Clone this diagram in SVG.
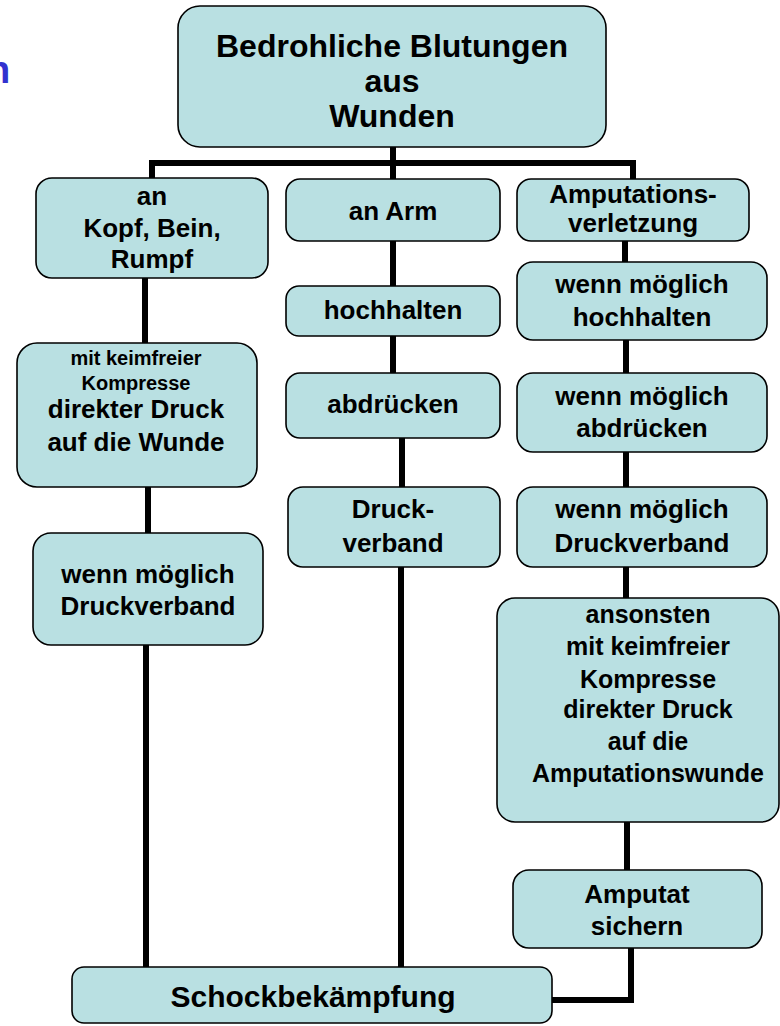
<svg xmlns="http://www.w3.org/2000/svg" width="780" height="1026" viewBox="0 0 780 1026">
<style>
.box{fill:#b9e0e2;stroke:#000;stroke-width:1.6}
.t{font-family:"Liberation Sans",Arial,sans-serif;font-weight:bold;fill:#000;text-anchor:middle;font-size:26px}
.s{font-size:20px}
.m{font-size:25px}
.l{font-size:32px}
.k{font-size:30px}
.c{fill:none;stroke:#000;stroke-width:6;stroke-linejoin:miter}
</style>
<rect width="780" height="1026" fill="#fff"/>
<text x="-13" y="83" font-family="Liberation Sans,Arial,sans-serif" font-weight="bold" font-size="38" fill="#3232cf">n</text>
<g id="connectors">
<path class="c" d="M393 147 V179"/>
<path class="c" d="M152 178 V163 H633 V179"/>
<path class="c" d="M145 278 V343"/>
<path class="c" d="M148 487 V533"/>
<path class="c" d="M146 645 V967"/>
<path class="c" d="M393 241 V286"/>
<path class="c" d="M393 336 V373"/>
<path class="c" d="M402 438 V487"/>
<path class="c" d="M401 567 V967"/>
<path class="c" d="M625 241 V262"/>
<path class="c" d="M626 340 V373"/>
<path class="c" d="M626 452 V487"/>
<path class="c" d="M626 567 V598"/>
<path class="c" d="M627 822 V870"/>
<path class="c" d="M631 948 V1000 H552"/>
</g>
<g id="top">
<rect class="box" x="178" y="6" width="428" height="141" rx="22"/>
<text class="t l" x="392" y="57">Bedrohliche Blutungen</text>
<text class="t l" x="392" y="92">aus</text>
<text class="t l" x="392" y="127">Wunden</text>
</g>
<g id="kopf">
<rect class="box" x="36" y="178" width="232" height="100" rx="16"/>
<text class="t" x="152" y="205">an</text>
<text class="t" x="152" y="237">Kopf, Bein,</text>
<text class="t" x="152" y="268">Rumpf</text>
</g>
<g id="arm">
<rect class="box" x="286" y="179" width="214" height="62" rx="14"/>
<text class="t" x="393" y="220">an Arm</text>
</g>
<g id="amputation">
<rect class="box" x="517" y="179" width="232" height="62" rx="14"/>
<text class="t" x="633" y="203">Amputations-</text>
<text class="t" x="633" y="232">verletzung</text>
</g>
<g id="r-hochhalten">
<rect class="box" x="517" y="262" width="250" height="78" rx="16"/>
<text class="t" x="642" y="293">wenn möglich</text>
<text class="t" x="642" y="326">hochhalten</text>
</g>
<g id="m-hochhalten">
<rect class="box" x="286" y="286" width="214" height="50" rx="13"/>
<text class="t" x="393" y="319">hochhalten</text>
</g>
<g id="l-kompresse">
<rect class="box" x="17" y="343" width="240" height="144" rx="20"/>
<text class="t s" x="136" y="365">mit keimfreier</text>
<text class="t s" x="136" y="390">Kompresse</text>
<text class="t" x="136" y="418">direkter Druck</text>
<text class="t" x="136" y="451">auf die Wunde</text>
</g>
<g id="m-abdruecken">
<rect class="box" x="286" y="373" width="214" height="65" rx="14"/>
<text class="t" x="393" y="413">abdrücken</text>
</g>
<g id="r-abdruecken">
<rect class="box" x="517" y="373" width="250" height="79" rx="16"/>
<text class="t" x="642" y="405">wenn möglich</text>
<text class="t" x="642" y="437">abdrücken</text>
</g>
<g id="m-druckverband">
<rect class="box" x="288" y="487" width="212" height="80" rx="15"/>
<text class="t" x="393" y="518">Druck-</text>
<text class="t" x="393" y="552">verband</text>
</g>
<g id="r-druckverband">
<rect class="box" x="517" y="487" width="250" height="80" rx="16"/>
<text class="t" x="642" y="518">wenn möglich</text>
<text class="t" x="642" y="552">Druckverband</text>
</g>
<g id="l-druckverband">
<rect class="box" x="33" y="533" width="230" height="112" rx="18"/>
<text class="t" x="148" y="583">wenn möglich</text>
<text class="t" x="148" y="615">Druckverband</text>
</g>
<g id="r-ansonsten">
<rect class="box" x="497" y="598" width="282" height="224" rx="18"/>
<text class="t m" x="648" y="623">ansonsten</text>
<text class="t m" x="648" y="655">mit keimfreier</text>
<text class="t m" x="648" y="688">Kompresse</text>
<text class="t m" x="648" y="718">direkter Druck</text>
<text class="t m" x="648" y="750">auf die</text>
<text class="t m" x="648" y="782">Amputationswunde</text>
</g>
<g id="amputat">
<rect class="box" x="513" y="870" width="249" height="78" rx="16"/>
<text class="t" x="637" y="903">Amputat</text>
<text class="t" x="637" y="935">sichern</text>
</g>
<g id="schock">
<rect class="box" x="72" y="967" width="480" height="56" rx="12"/>
<text class="t k" x="313" y="1007">Schockbekämpfung</text>
</g>
</svg>
